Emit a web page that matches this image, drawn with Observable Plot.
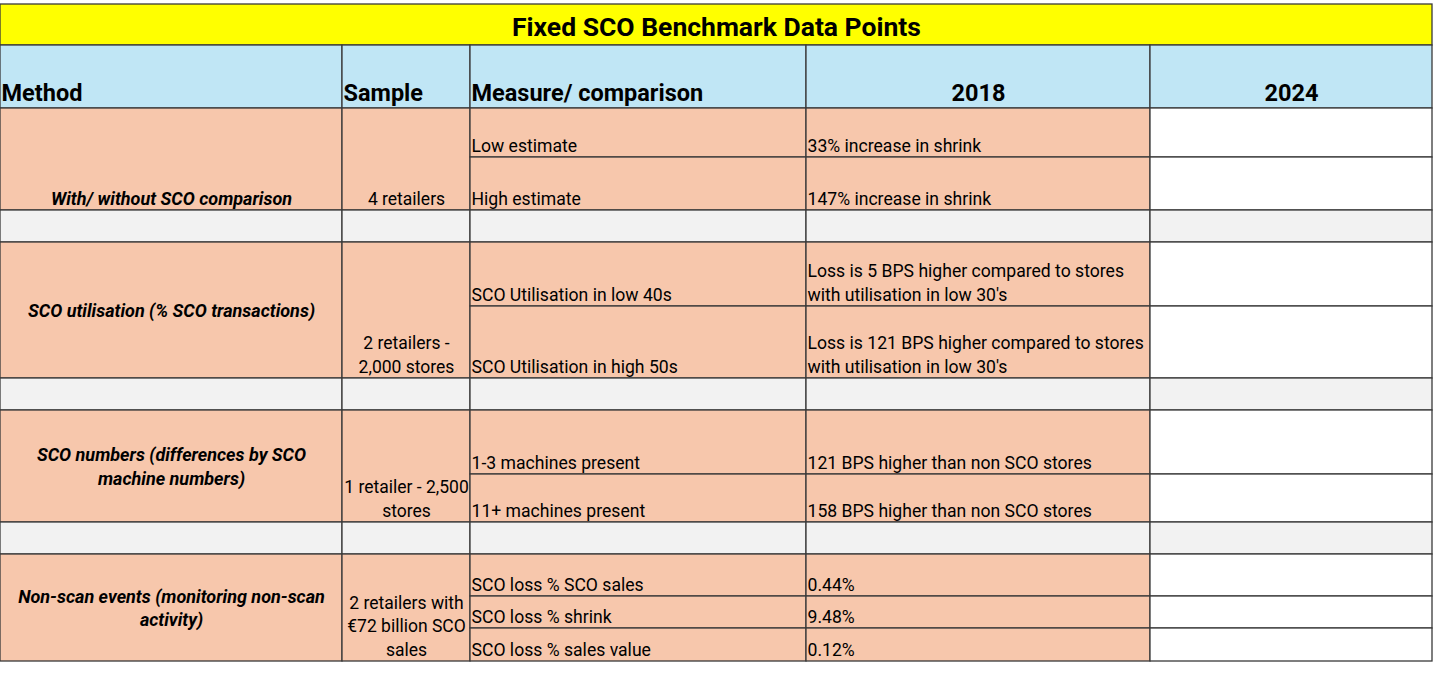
<!DOCTYPE html>
<html><head><meta charset="utf-8">
<script src="https://cdn.jsdelivr.net/npm/d3@7"></script>
<script src="https://cdn.jsdelivr.net/npm/@observablehq/plot@0.6"></script>
<style>
html,body{margin:0;padding:0;background:#fff;}
#chart svg{display:block;}
</style></head><body><div id="chart"></div>
<script>
// ---- data ----
const title = "Fixed SCO Benchmark Data Points";
const headers = ["Method", "Sample", "Measure/ comparison", "2018", "2024"];
const methods = [
  "With/ without SCO comparison",
  "SCO utilisation (% SCO transactions)",
  "SCO numbers (differences by SCO\nmachine numbers)",
  "Non-scan events (monitoring non-scan\nactivity)"
];
const samples = [
  "4 retailers",
  "2 retailers -\n2,000 stores",
  "1 retailer - 2,500\nstores",
  "2 retailers with\n€72 billion SCO\nsales"
];
const measures = [
  ["Low estimate", "High estimate"],
  ["SCO Utilisation in low 40s", "SCO Utilisation in high 50s"],
  ["1-3 machines present", "11+ machines present"],
  ["SCO loss % SCO sales", "SCO loss % shrink", "SCO loss % sales value"]
];
const values2018 = [
  ["33% increase in shrink", "147% increase in shrink"],
  ["Loss is 5 BPS higher compared to stores\nwith utilisation in low 30's", "Loss is 121 BPS higher compared to stores\nwith utilisation in low 30's"],
  ["121 BPS higher than non SCO stores", "158 BPS higher than non SCO stores"],
  ["0.44%", "9.48%", "0.12%"]
];
const values2024 = [["", ""], ["", ""], ["", ""], ["", "", ""]];

// ---- layout ----
const W = 1433, H = 674;
const colEdges = [0, 342, 470, 806, 1150, 1432];
const titleBand = [4, 45];
const headerBand = [45, 108];
const subRowHeights = [[49, 53], [64, 72], [64, 48], [42, 32, 33]];
const spacerHeight = 32;
const methodAnchor = ["bottom", "middle", "middle", "middle"];
const colors = {title: "#FFFF00", header: "#C0E6F5", cell: "#F7C7AC", blank: "#FFFFFF", spacer: "#F2F2F2", line: "#3a3a3a"};

const cells = [];
const titleText = [{x: (colEdges[0] + colEdges[5]) / 2, y: (titleBand[0] + titleBand[1]) / 2, text: title}];
const headerText = [];
const methodText = [];
const sampleText = [];
const dataText = [];

cells.push({x1: colEdges[0], x2: colEdges[5], y1: titleBand[0], y2: titleBand[1], fill: colors.title});
headers.forEach((h, i) => {
  cells.push({x1: colEdges[i], x2: colEdges[i + 1], y1: headerBand[0], y2: headerBand[1], fill: colors.header});
  const centered = i >= 3;
  headerText.push({x: centered ? (colEdges[i] + colEdges[i + 1]) / 2 : colEdges[i] + 1, y: headerBand[1], text: h, anchor: centered ? "middle" : "start"});
});

let cursor = headerBand[1];
methods.forEach((m, g) => {
  const hs = subRowHeights[g];
  const rowTop = cursor;
  const bottom = rowTop + d3.sum(hs);
  cells.push({x1: colEdges[0], x2: colEdges[1], y1: rowTop, y2: bottom, fill: colors.cell});
  cells.push({x1: colEdges[1], x2: colEdges[2], y1: rowTop, y2: bottom, fill: colors.cell});
  methodText.push({x: (colEdges[0] + colEdges[1]) / 2, y: methodAnchor[g] === "middle" ? (rowTop + bottom) / 2 : bottom, text: m, anchor: methodAnchor[g]});
  sampleText.push({x: (colEdges[1] + colEdges[2]) / 2, y: bottom, text: samples[g]});
  let y = rowTop;
  hs.forEach((h, r) => {
    cells.push({x1: colEdges[2], x2: colEdges[3], y1: y, y2: y + h, fill: colors.cell});
    cells.push({x1: colEdges[3], x2: colEdges[4], y1: y, y2: y + h, fill: colors.cell});
    cells.push({x1: colEdges[4], x2: colEdges[5], y1: y, y2: y + h, fill: colors.blank});
    dataText.push({x: colEdges[2] + 1, y: y + h, text: measures[g][r]});
    dataText.push({x: colEdges[3] + 1, y: y + h, text: values2018[g][r]});
    dataText.push({x: colEdges[4] + 1, y: y + h, text: values2024[g][r]});
    y += h;
  });
  cursor = bottom;
  if (g < methods.length - 1) {
    for (let i = 0; i < 5; i++) cells.push({x1: colEdges[i], x2: colEdges[i + 1], y1: cursor, y2: cursor + spacerHeight, fill: colors.spacer});
    cursor += spacerHeight;
  }
});

const chart = Plot.plot({
  width: W,
  height: H,
  margin: 0,
  x: {domain: [0, W], range: [0, W], axis: null},
  y: {domain: [0, H], range: [0, H], axis: null},
  style: {fontFamily: "Roboto, 'Liberation Sans', sans-serif", background: "#fff", color: "#000"},
  marks: [
    Plot.rect(cells, {x1: "x1", x2: "x2", y1: "y1", y2: "y2", fill: d => d.fill, stroke: colors.line, strokeWidth: 1.3}),
    Plot.text(titleText, {x: "x", y: "y", text: "text", fontSize: 26.5, fontWeight: "bold", lineAnchor: "middle", lineHeight: 1, dy: 3, fill: "#000"}),
    Plot.text(headerText.filter(d => d.anchor === "start"), {x: "x", y: "y", text: "text", fontSize: 23.5, fontWeight: "bold", textAnchor: "start", lineAnchor: "bottom", dy: -7.5, fill: "#000"}),
    Plot.text(headerText.filter(d => d.anchor === "middle"), {x: "x", y: "y", text: "text", fontSize: 23.5, fontWeight: "bold", textAnchor: "middle", lineAnchor: "bottom", dy: -7.5, fill: "#000"}),
    Plot.text(methodText.filter(d => d.anchor === "middle"), {x: "x", y: "y", text: "text", fontSize: 18, fontWeight: "bold", fontStyle: "italic", textAnchor: "middle", lineAnchor: "middle", lineHeight: 1.32, dy: -1, fill: "#000"}),
    Plot.text(methodText.filter(d => d.anchor === "bottom"), {x: "x", y: "y", text: "text", fontSize: 18, fontWeight: "bold", fontStyle: "italic", textAnchor: "middle", lineAnchor: "bottom", lineHeight: 1.32, dy: -5.5, fill: "#000"}),
    Plot.text(sampleText, {x: "x", y: "y", text: "text", fontSize: 17.5, textAnchor: "middle", lineAnchor: "bottom", lineHeight: 1.35, dy: -5.5, fill: "#000"}),
    Plot.text(dataText, {x: "x", y: "y", text: "text", fontSize: 17.6, textAnchor: "start", lineAnchor: "bottom", lineHeight: 1.36, dy: -5.5, fill: "#000"})
  ]
});
document.getElementById("chart").appendChild(chart);
</script>
</body></html>
